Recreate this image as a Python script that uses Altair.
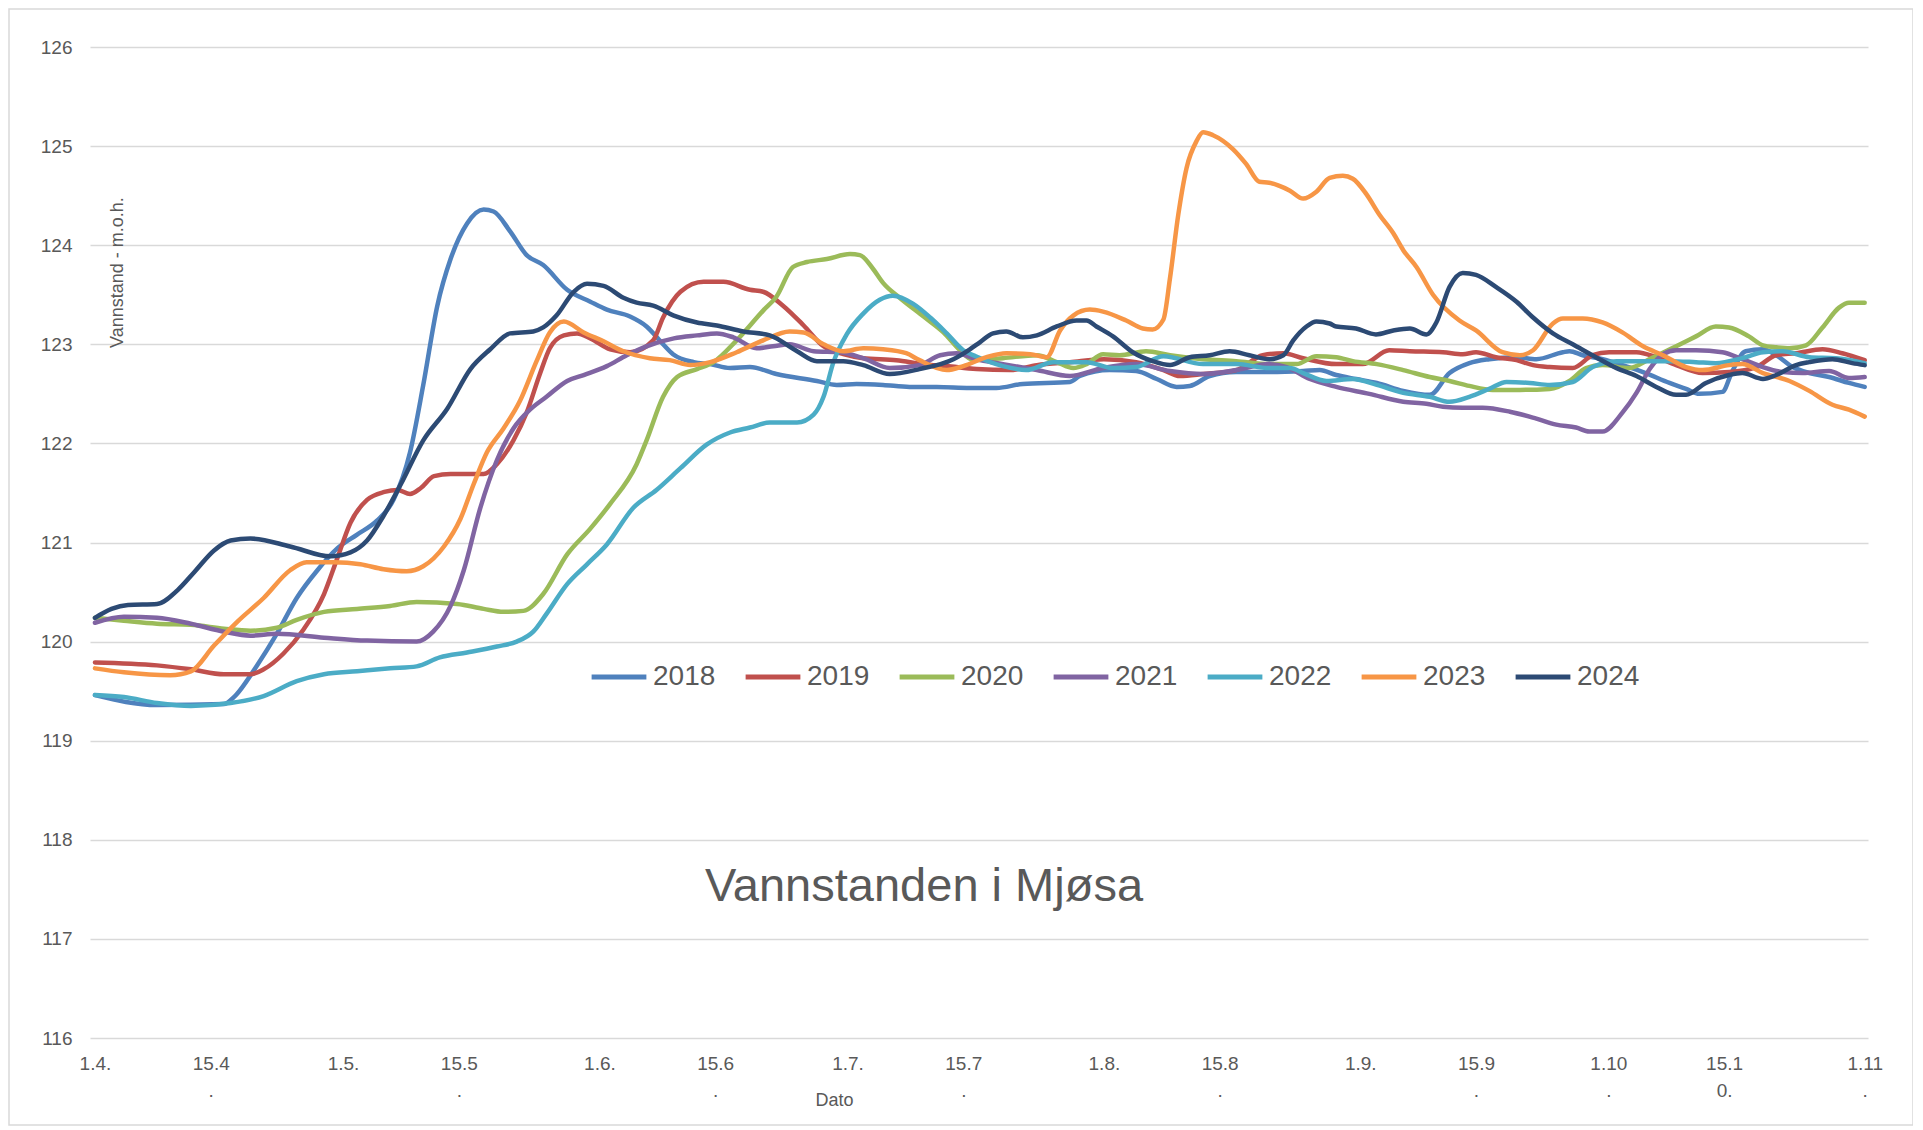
import altair as alt
import pandas as pd
import json

FONT = "Liberation Sans"
TXT = "#595959"

years = ["2018", "2019", "2020", "2021", "2022", "2023", "2024"]
colors = ["#4F81BD", "#C0504D", "#9BBB59", "#8064A2", "#4BACC6", "#F79646", "#2C4A74"]

chart_title = "Vannstanden i Mjøsa"
x_title = "Dato"
y_title = "Vannstand - m.o.h."

tick_days = [0, 14, 30, 44, 61, 75, 91, 105, 122, 136, 153, 167, 183, 197, 214]
tick_labels = ["1.4.", "15.4\n.", "1.5.", "15.5\n.", "1.6.", "15.6\n.", "1.7.", "15.7\n.",
               "1.8.", "15.8\n.", "1.9.", "15.9\n.", "1.10\n.", "15.1\n0.", "1.11\n."]
y_ticks = [116, 117, 118, 119, 120, 121, 122, 123, 124, 125, 126]

# day = days after 1 April
days_2018 = [0, 7.5, 15.6, 16.8, 19.6, 22, 24.4, 26.9, 29.3, 31.7, 34.1, 36.1, 38.1, 39.7, 41.4, 43, 45, 47, 48.2, 50.2, 52.2,
             54.2, 57.1, 59.9, 61.9, 64.7, 66.7, 68.7, 69.9, 72.4, 74.4, 76.8, 79.2, 82.4, 87.3, 89.7, 92.1, 95.3, 98.5, 101.8,
             105.8, 109, 112.2, 117.9, 119.1, 122.7, 125.9, 128.4, 130.8, 132.4, 134.8, 138, 142, 146.1, 148.1, 150.1, 152.5,
             155, 158.2, 161.4, 163.8, 166.2, 168.6, 171.9, 174.3, 177.5, 178.3, 179.9, 182.3, 184.7, 187.2, 190.4, 192.4, 194,
             196.8, 198, 199.6, 201.7, 203.3, 205.3, 207.3, 209.7, 212.1, 214]
lvl_2018 = [119.46, 119.36, 119.37, 119.44, 119.76, 120.08, 120.44, 120.72, 120.94, 121.08, 121.22, 121.43, 121.91, 122.59,
            123.39, 123.86, 124.22, 124.36, 124.34, 124.14, 123.9,
            123.80, 123.55, 123.43, 123.35, 123.28, 123.18, 123.0, 122.90, 122.82, 122.8, 122.76, 122.77, 122.70, 122.63,
            122.59, 122.60, 122.59, 122.57, 122.57,
            122.56, 122.56, 122.60, 122.62, 122.68, 122.74, 122.73, 122.65, 122.57, 122.58, 122.68, 122.72, 122.72, 122.73,
            122.74, 122.69, 122.65, 122.61, 122.53, 122.49, 122.71, 122.81, 122.85, 122.87, 122.85, 122.92, 122.93, 122.89,
            122.85, 122.79, 122.72, 122.61, 122.55, 122.50, 122.52, 122.73, 122.93, 122.95, 122.89, 122.77, 122.71, 122.67,
            122.61, 122.57]

days_2019 = [0, 7.5, 11.6, 15.6, 18.8, 20.4, 22.8, 25.2, 27.7, 29.3, 30.9, 32.9, 35, 36.6, 38.1, 39.4, 41, 43, 47, 48.6,
             50.6, 52.2, 53.8, 55, 56.7, 58.3, 59.9, 62.3, 64.7, 67.5, 68.7, 70.8, 73.6, 76, 79.2, 80.8, 83.2, 85.7, 88.1,
             90.5, 92.9, 96.9, 100.2, 103, 106.6, 110.6, 113.9, 117.9, 122, 125.9, 129.2, 131.2, 134, 138, 141.2, 143.7,
             146.1, 150.1, 153.3, 156.5, 159, 163, 165.4, 167, 169.4, 171.9, 173.9, 175.9, 178.7, 181.1, 183.1, 186.4,
             188.8, 191.2, 194.4, 197.6, 200.9, 203.3, 205.7, 208.9, 211.3, 214]
lvl_2019 = [119.79, 119.76, 119.72, 119.67, 119.67, 119.72, 119.88, 120.12, 120.48, 120.84, 121.2, 121.43, 121.51, 121.53,
            121.49, 121.55, 121.67, 121.69, 121.69, 121.79, 122.03, 122.31, 122.7, 122.96, 123.09, 123.11, 123.06, 122.95,
            122.92, 123.04, 123.27, 123.53, 123.63, 123.63, 123.55, 123.53, 123.39, 123.19, 122.98, 122.90, 122.86, 122.84,
            122.80, 122.78, 122.75, 122.74, 122.79, 122.82, 122.85, 122.82, 122.74, 122.68, 122.70, 122.74, 122.89, 122.91,
            122.86, 122.80, 122.80, 122.94, 122.93, 122.92, 122.90, 122.92, 122.87, 122.84, 122.79, 122.77, 122.76, 122.89,
            122.92, 122.92, 122.87, 122.79, 122.71, 122.72, 122.77, 122.89, 122.91, 122.95, 122.91, 122.84]

days_2020 = [0, 3.5, 7.5, 11.6, 15.6, 18.8, 22, 24.4, 27.7, 31.7, 35.7, 38.9, 43.8, 47, 49.4, 51.8, 54.2, 57.1, 59.9, 62.3,
             65.5, 66.7, 68.7, 70.4, 72.8, 74.8, 77.6, 80.8, 82.4, 84.4, 86.1, 88.5, 91.3, 92.5, 94.1, 95.3, 97.3, 100.2,
             102.6, 104.6, 106.2, 109.8, 113.9, 116.3, 118.3, 119.9, 121.9, 123.9, 127.1, 130, 134, 138, 142, 145.3, 147.7,
             150.1, 152.1, 155, 158.2, 161.4, 163.8, 166.2, 169, 172.3, 175.9, 178.3, 180.3, 182.3, 185.5, 188, 191.2,
             193.6, 196, 197.6, 200, 201.7, 203.3, 204.9, 206.9, 208.9, 210.9, 212.1, 214]
lvl_2020 = [120.24, 120.21, 120.18, 120.17, 120.13, 120.11, 120.14, 120.22, 120.30, 120.33, 120.36, 120.40, 120.38, 120.33,
            120.30, 120.31, 120.48, 120.88, 121.14, 121.39, 121.79, 122.03, 122.47, 122.67, 122.75, 122.82, 123.04, 123.34,
            123.48, 123.78, 123.83, 123.86, 123.91, 123.90, 123.76, 123.62, 123.47, 123.28, 123.12, 122.94, 122.84, 122.86,
            122.89, 122.82, 122.76, 122.80, 122.90, 122.89, 122.93, 122.89, 122.85, 122.83, 122.80, 122.80, 122.88, 122.87,
            122.83, 122.80, 122.74, 122.67, 122.63, 122.58, 122.54, 122.54, 122.55, 122.63, 122.76, 122.79, 122.76, 122.85,
            122.98, 123.08, 123.18, 123.17, 123.08, 122.99, 122.97, 122.96, 122.99, 123.17, 123.37, 123.42, 123.42]

days_2021 = [0, 3.5, 7.5, 11.6, 15.6, 18.8, 22, 27.7, 32.9, 38.9, 40.9, 43, 44.6, 46.6, 48.6, 50.6, 52.6, 54.6, 57.1, 59.1,
             61.9, 64.3, 66.7, 70, 72.8, 75.2, 77.2, 80, 82, 84, 86.9, 90.1, 92.9, 96.1, 99.7, 102.2, 104.2, 106.5, 109.8,
             113.9, 117.9, 121.9, 125.9, 130, 134, 138, 142, 144.1, 146.9, 150.1, 154.1, 158.2, 161, 163, 165.4, 167.8,
             171.1, 174.3, 176.7, 179.1, 180.7, 182.3, 184.7, 186.4, 188, 189.6, 191.2, 193.6, 196.8, 199.2, 201.7, 204.1,
             206.5, 209.7, 212.1, 214]
lvl_2021 = [120.19, 120.25, 120.24, 120.18, 120.10, 120.06, 120.08, 120.04, 120.01, 120.00, 120.10, 120.36, 120.72, 121.35,
            121.83, 122.15, 122.34, 122.47, 122.63, 122.69, 122.78, 122.89, 122.98, 123.06, 123.09, 123.11, 123.07, 122.96,
            122.98, 123.0, 122.93, 122.92, 122.86, 122.76, 122.79, 122.89, 122.91, 122.85, 122.80, 122.74, 122.68, 122.76,
            122.80, 122.73, 122.70, 122.74, 122.80, 122.77, 122.65, 122.57, 122.50, 122.42, 122.40, 122.37, 122.36, 122.36,
            122.32, 122.25, 122.19, 122.16, 122.12, 122.12, 122.31, 122.51, 122.75, 122.90, 122.94, 122.94, 122.92, 122.85,
            122.77, 122.72, 122.71, 122.73, 122.66, 122.67]

days_2022 = [0, 3.5, 7.5, 11.6, 16.4, 20.4, 24.4, 27.7, 31.7, 35.7, 38.9, 41.7, 45, 48.6, 51, 53, 54.6, 57.1, 59.5, 61.9,
             65.1, 67.9, 70.8, 74, 76.8, 79.2, 81.6, 84.9, 86.9, 88.1, 89.3, 90.9, 92.9, 94.9, 96.5, 98.9, 101, 103, 105,
             106.5, 109.8, 112.6, 115.9, 119.9, 123.1, 125.9, 129.2, 134, 138, 142, 144.5, 146.1, 148.9, 152.1, 155, 158.2,
             161.4, 163.8, 166.2, 168.6, 170.7, 173.5, 175.9, 178.7, 181.1, 184, 187.2, 190.4, 193.6, 196, 199.2, 201.7,
             204.1, 207.3, 210.5, 214]
lvl_2022 = [119.46, 119.44, 119.38, 119.35, 119.38, 119.45, 119.6, 119.67, 119.70, 119.73, 119.75, 119.84, 119.89, 119.95,
            120.0, 120.1, 120.28, 120.58, 120.78, 120.98, 121.35, 121.53, 121.75, 121.99, 122.11, 122.16, 122.21, 122.21,
            122.29, 122.47, 122.82, 123.1, 123.31, 123.45, 123.49, 123.41, 123.27, 123.11, 122.94, 122.88, 122.78, 122.74,
            122.82, 122.82, 122.76, 122.77, 122.88, 122.80, 122.80, 122.76, 122.76, 122.71, 122.63, 122.65, 122.59, 122.51,
            122.47, 122.42, 122.47, 122.55, 122.62, 122.61, 122.59, 122.62, 122.77, 122.83, 122.83, 122.83, 122.82, 122.81,
            122.86, 122.92, 122.93, 122.87, 122.86, 122.81]

days_2023 = [0, 3.5, 9.1, 11.6, 14.4, 17.2, 20.4, 23.6, 25.6, 28.9, 32.1, 34.9, 37.7, 39.7, 42.2, 44.2, 45.8, 47.4, 49.4,
             51.4, 53.4, 55, 56.7, 59.1, 61.5, 63.9, 67.1, 69.5, 72, 74.4, 77.6, 80.8, 84, 85.7, 88.1, 90.5, 92.9, 95.3, 98.1,
             99.7, 103, 105, 107.8, 110.2, 113.1, 115.1, 116.7, 118.3, 120.3, 121.9, 124.7, 126.7, 127.9, 129.2, 130, 131,
             132, 133.2, 134, 135.2, 137.6, 139.2, 140.8, 142, 144.5, 146.1, 147.7, 149.3, 150.9, 152.1, 153.7, 155.3, 157,
             158.2, 159.8, 161.8, 165, 167, 170.2, 172.3, 173.9, 176.3, 177.5, 179.9, 182.3, 184.7, 187.2, 189.6, 192.4,
             194.4, 197.6, 199.2, 201.7, 204.9, 207.3, 210.1, 212.1, 214]
lvl_2023 = [119.73, 119.69, 119.66, 119.70, 119.96, 120.2, 120.44, 120.72, 120.80, 120.80, 120.78, 120.73, 120.71, 120.76,
            120.96, 121.24, 121.59, 121.91, 122.15, 122.43, 122.83, 123.12, 123.23, 123.12, 123.03, 122.93, 122.86, 122.84,
            122.79, 122.82, 122.92, 123.04, 123.13, 123.12, 123.0, 122.93, 122.96, 122.95, 122.91, 122.84, 122.74, 122.78,
            122.87, 122.91, 122.90, 122.87, 123.14, 123.29, 123.35, 123.33, 123.24, 123.16, 123.15, 123.25, 123.67, 124.31,
            124.78, 125.05, 125.14, 125.11, 124.97, 124.82, 124.64, 124.63, 124.55, 124.47, 124.54, 124.68, 124.70, 124.67,
            124.52, 124.31, 124.12, 123.95, 123.78, 123.50, 123.24, 123.14, 122.92, 122.89, 122.94, 123.21, 123.26, 123.26,
            123.22, 123.12, 122.98, 122.89, 122.77, 122.74, 122.79, 122.80, 122.71, 122.63, 122.53, 122.39, 122.34, 122.27]

days_2024 = [0, 2, 4, 7.5, 10, 12, 14.4, 16.4, 18.8, 23.6, 28.5, 30.9, 32.9, 34.9, 37, 39.7, 42.6, 45.4, 47.8, 50.2, 53,
             54.2, 55.8, 57.9, 59.5, 61.5, 63.9, 65.5, 67.5, 70, 72.8, 75.2, 78.4, 81.6, 84.9, 87.3, 90.5, 92.9, 96.1, 99.7,
             103.8, 105.8, 107, 108.6, 110.2, 112.2, 113.9, 116.3, 118.7, 119.9, 121.1, 123.1, 125.5, 127.9, 130, 132.4,
             134.8, 137.2, 139.6, 142, 143.7, 144.9, 146.5, 147.7, 149.3, 150.1, 152.5, 154.9, 157, 159, 161, 162.2, 163.8,
             165.4, 167, 169.4, 171.9, 173.9, 176.3, 178.7, 181.5, 184, 186.4, 188.8, 191.2, 192.4, 194.8, 197.6, 199.2,
             201.7, 203.3, 205.7, 207.3, 210.1, 212.5, 214]
lvl_2024 = [120.24, 120.33, 120.37, 120.38, 120.52, 120.70, 120.92, 121.02, 121.04, 120.96, 120.86, 120.9, 121.02, 121.27,
            121.59, 122.03, 122.35, 122.75, 122.95, 123.11, 123.13, 123.17, 123.29, 123.53, 123.61, 123.59, 123.47, 123.42,
            123.39, 123.29, 123.22, 123.19, 123.13, 123.09, 122.93, 122.83, 122.83, 122.79, 122.70, 122.75, 122.85, 122.95,
            123.02, 123.11, 123.13, 123.07, 123.09, 123.18, 123.24, 123.24, 123.18, 123.08, 122.92, 122.83, 122.79, 122.87,
            122.89, 122.93, 122.89, 122.85, 122.89, 123.04, 123.18, 123.23, 123.21, 123.18, 123.16, 123.10, 123.14, 123.16,
            123.10, 123.22, 123.58, 123.72, 123.70, 123.58, 123.43, 123.27, 123.11, 123.0, 122.87, 122.76, 122.68, 122.57,
            122.49, 122.49, 122.61, 122.69, 122.71, 122.65, 122.69, 122.79, 122.82, 122.85, 122.81, 122.79]

all_days = [days_2018, days_2019, days_2020, days_2021, days_2022, days_2023, days_2024]
all_lvls = [lvl_2018, lvl_2019, lvl_2020, lvl_2021, lvl_2022, lvl_2023, lvl_2024]

rows = []
for yr, ds, vs in zip(years, all_days, all_lvls):
    for d, v in zip(ds, vs):
        rows.append({"year": yr, "day": d, "level": v})
df = pd.DataFrame(rows)

# label expression: multi-line labels
expr = ""
for d, lab in zip(tick_days, tick_labels):
    expr += f"datum.value == {d} ? {json.dumps(lab.split(chr(10)))} : "
expr += "''"

W, H = 1778, 991

lines = alt.Chart(df).mark_line(strokeWidth=4.5, strokeCap="round", strokeJoin="round",
                                interpolate="monotone").encode(
    x=alt.X("day:Q",
            scale=alt.Scale(domain=[-0.6, 214.4], nice=False, zero=False),
            axis=alt.Axis(values=tick_days, labelExpr=expr, grid=False, domain=False, ticks=False,
                          labelBaseline="top", labelPadding=16, labelFontSize=19, labelColor=TXT,
                          labelLineHeight=27, labelFlush=False, labelOverlap=False,
                          title=x_title, titleX=744, titleY=62, titleAlign="center",
                          titleBaseline="middle", titleFontSize=18, titleFontWeight="normal",
                          titleColor=TXT)),
    y=alt.Y("level:Q",
            scale=alt.Scale(domain=[116, 126], nice=False, zero=False),
            axis=alt.Axis(values=y_ticks, grid=True, gridColor="#d9d9d9", gridWidth=1.6,
                          domain=False, ticks=False, labelPadding=18, labelFontSize=19,
                          labelColor=TXT, title=y_title, titleX=27, titleY=225, titleAngle=270,
                          titleAlign="center", titleBaseline="middle", titleFontSize=18,
                          titleFontWeight="normal", titleColor=TXT)),
    color=alt.Color("year:N",
                    scale=alt.Scale(domain=years, range=colors),
                    legend=alt.Legend(orient="none", legendX=499, legendY=600, direction="horizontal",
                                      columns=7, title=None, symbolType="stroke", symbolSize=3000,
                                      symbolStrokeWidth=5, labelFontSize=28, labelColor=TXT,
                                      labelOffset=4, columnPadding=19)),
)

title_df = pd.DataFrame({"t": [chart_title]})
title_mark = alt.Chart(title_df).mark_text(fontSize=47, color=TXT, align="center",
                                           baseline="middle").encode(
    x=alt.value(834), y=alt.value(840), text="t:N")

border = alt.Chart(title_df).mark_rect(fillOpacity=0, stroke="#d9d9d9", strokeWidth=1.5).encode(
    x=alt.value(-81), x2=alt.value(1823), y=alt.value(-38), y2=alt.value(1078))

chart = alt.layer(border, lines, title_mark).properties(
    width=W, height=H, autosize="none",
    padding={"left": 82, "top": 39, "right": 45, "bottom": 88},
    background="white",
).configure(font=FONT).configure_view(strokeWidth=0)

chart.save("out.html", embed_options={"renderer": "svg", "actions": False})
